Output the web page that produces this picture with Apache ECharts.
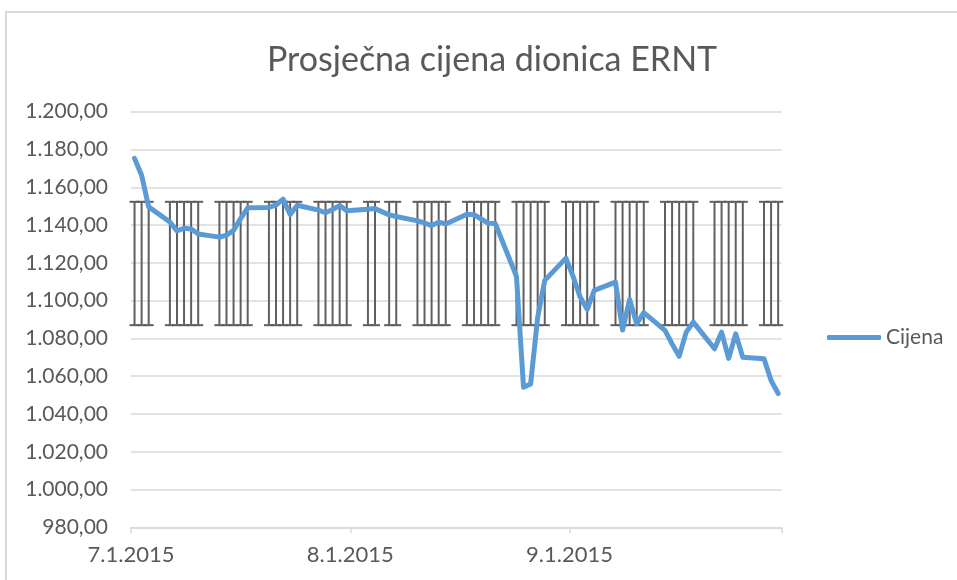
<!DOCTYPE html>
<html>
<head>
<meta charset="utf-8">
<script src="https://cdn.jsdelivr.net/npm/echarts@6/dist/echarts.min.js"></script>
<style>
    html, body { margin: 0; padding: 0; background: #fff; }
    #chart { width: 957px; height: 580px; }
</style>
</head>
<body>
<div id="chart"></div>
<script>
// trading days (Aug 5 is a holiday, no data)
var dates = [
    '2015-07-01', '2015-07-02', '2015-07-03',
    '2015-07-06', '2015-07-07', '2015-07-08', '2015-07-09', '2015-07-10',
    '2015-07-13', '2015-07-14', '2015-07-15', '2015-07-16', '2015-07-17',
    '2015-07-20', '2015-07-21', '2015-07-22', '2015-07-23', '2015-07-24',
    '2015-07-27', '2015-07-28', '2015-07-29', '2015-07-30', '2015-07-31',
    '2015-08-03', '2015-08-04', '2015-08-06', '2015-08-07',
    '2015-08-10', '2015-08-11', '2015-08-12', '2015-08-13', '2015-08-14',
    '2015-08-17', '2015-08-18', '2015-08-19', '2015-08-20', '2015-08-21',
    '2015-08-24', '2015-08-25', '2015-08-26', '2015-08-27', '2015-08-28',
    '2015-08-31', '2015-09-01', '2015-09-02', '2015-09-03', '2015-09-04',
    '2015-09-07', '2015-09-08', '2015-09-09', '2015-09-10', '2015-09-11',
    '2015-09-14', '2015-09-15', '2015-09-16', '2015-09-17', '2015-09-18',
    '2015-09-21', '2015-09-22', '2015-09-23', '2015-09-24', '2015-09-25',
    '2015-09-28', '2015-09-29', '2015-09-30'
];
var cijena = [
    1175.3, 1166.4, 1149.6,
    1141.6, 1136.9, 1138.3, 1137.9, 1135.3,
    1133.6, 1134.6, 1137.2, 1143.4, 1149.1,
    1149.3, 1150.5, 1153.7, 1145.6, 1150.5,
    1147.9, 1146.5, 1148.2, 1150.3, 1147.6,
    1148.4, 1148.7, 1145.4, 1144.5,
    1142.2, 1141.1, 1139.7, 1141.5, 1140.6,
    1145.7, 1145.5, 1143.2, 1141.0, 1140.8,
    1112.8, 1054.1, 1055.9, 1091.2, 1110.7,
    1122.5, 1112.8, 1101.9, 1095.4, 1105.4,
    1109.8, 1084.4, 1100.6, 1087.7, 1093.6,
    1084.2, 1077.1, 1070.5, 1083.3, 1088.6,
    1074.5, 1083.3, 1069.4, 1082.4, 1070.0,
    1069.2, 1057.7, 1050.8
];
// the grey bars drawn at every trading day
var barLow = 1087.0;
var barHigh = 1152.3;

var yTicks = { min: 980, max: 1200, interval: 20 };
var xStart = '2015-07-01';
var xEnd = '2015-10-01';
var xLabelDates = ['2015-07-01', '2015-08-01', '2015-09-01'];
var xTickDates = ['2015-07-01', '2015-08-01', '2015-09-01', '2015-10-01'];

var DAY = 86400000;
function toUTC(s) {
    var p = s.split('-');
    return Date.UTC(+p[0], +p[1] - 1, +p[2]);
}
function dayOffset(s) {
    return Math.round((toUTC(s) - toUTC(xStart)) / DAY);
}
function fmtDate(off) {
    var d = new Date(toUTC(xStart) + off * DAY);
    return (d.getUTCMonth() + 1) + '.' + d.getUTCDate() + '.' + d.getUTCFullYear();
}
function fmtNum(v) {
    var s = v.toFixed(2).split('.');
    return s[0].replace(/\B(?=(\d{3})+(?!\d))/g, '.') + ',' + s[1];
}

var textColor = '#595959';
var gridColor = '#d9d9d9';
var font = 'Lato';

var chart = echarts.init(document.getElementById('chart'));

chart.setOption({
    animation: false,
    graphic: [{
        type: 'rect',
        shape: { x: 6, y: 12, width: 1100, height: 1000 },
        style: { fill: 'none', stroke: gridColor, lineWidth: 2 },
        z: -10
    }],
    title: {
        text: 'Prosječna cijena dionica ERNT',
        left: 262,
        top: 38,
        textStyle: { fontFamily: font, fontSize: 34, fontWeight: 'normal', color: textColor }
    },
    legend: {
        data: ['Cijena'],
        left: 822,
        top: 322,
        icon: 'roundRect',
        itemWidth: 54,
        itemHeight: 5,
        textStyle: { fontFamily: font, fontSize: 21, color: textColor }
    },
    grid: { left: 131, right: 175.3, top: 111.7, bottom: 52.7 },
    xAxis: {
        type: 'value',
        min: dayOffset(xStart),
        max: dayOffset(xEnd),
        axisLine: { lineStyle: { color: gridColor, width: 1.5 } },
        axisTick: {
            customValues: xTickDates.map(dayOffset),
            length: 6,
            lineStyle: { color: gridColor, width: 1.5 }
        },
        axisLabel: {
            customValues: xLabelDates.map(dayOffset),
            formatter: fmtDate,
            margin: 17,
            fontFamily: font,
            fontSize: 22,
            color: textColor
        },
        splitLine: { show: false }
    },
    yAxis: {
        type: 'value',
        min: yTicks.min,
        max: yTicks.max,
        interval: yTicks.interval,
        axisLine: { show: false },
        axisTick: { show: false },
        axisLabel: {
            formatter: fmtNum,
            margin: 23,
            fontFamily: font,
            fontSize: 21,
            color: textColor
        },
        splitLine: { lineStyle: { color: gridColor, width: 1.5 } }
    },
    series: [
        {
            name: 'bars',
            type: 'custom',
            silent: true,
            z: 1,
            data: dates.map(function (d) { return [dayOffset(d) + 0.5, barLow, barHigh]; }),
            renderItem: function (params, api) {
                var lo = api.coord([api.value(0), api.value(1)]);
                var hi = api.coord([api.value(0), api.value(2)]);
                var cap = 5;
                var style = { stroke: '#5f5f5f', lineWidth: 2 };
                return {
                    type: 'group',
                    children: [
                        { type: 'line', shape: { x1: lo[0], y1: lo[1], x2: hi[0], y2: hi[1] }, style: style },
                        { type: 'line', shape: { x1: hi[0] - cap, y1: hi[1], x2: hi[0] + cap, y2: hi[1] }, style: style },
                        { type: 'line', shape: { x1: lo[0] - cap, y1: lo[1], x2: lo[0] + cap, y2: lo[1] }, style: style }
                    ]
                };
            }
        },
        {
            name: 'Cijena',
            type: 'line',
            z: 3,
            showSymbol: false,
            color: '#5b9bd5',
            lineStyle: { width: 5, color: '#5b9bd5', cap: 'round', join: 'round' },
            data: dates.map(function (d, i) { return [dayOffset(d) + 0.5, cijena[i]]; })
        }
    ]
});
</script>
</body>
</html>
